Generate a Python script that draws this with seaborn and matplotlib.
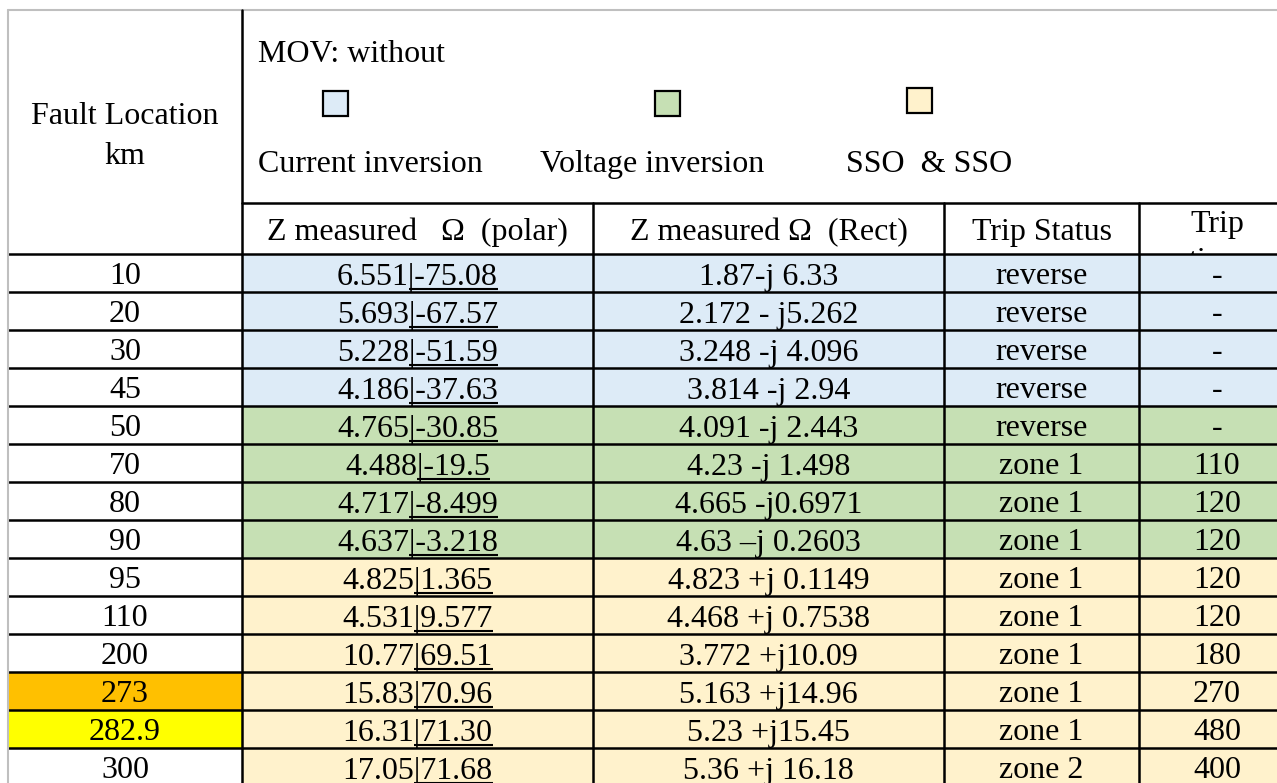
import numpy as np
import pandas as pd
import matplotlib
matplotlib.use("Agg")
import matplotlib.pyplot as plt
from matplotlib.colors import ListedColormap
from matplotlib.patches import Rectangle
import seaborn as sns

# table values
fault_km = ["10", "20", "30", "45", "50", "70", "80", "90", "95", "110", "200", "273", "282.9", "300"]
polar_mag = ["6.551", "5.693", "5.228", "4.186", "4.765", "4.488", "4.717", "4.637",
             "4.825", "4.531", "10.77", "15.83", "16.31", "17.05"]
polar_ang = ["-75.08", "-67.57", "-51.59", "-37.63", "-30.85", "-19.5", "-8.499", "-3.218",
             "1.365", "9.577", "69.51", "70.96", "71.30", "71.68"]
z_rect = ["1.87-j 6.33", "2.172 - j5.262", "3.248 -j 4.096", "3.814 -j 2.94", "4.091 -j 2.443",
          "4.23 -j 1.498", "4.665 -j0.6971", "4.63 \u2013j 0.2603", "4.823 +j 0.1149",
          "4.468 +j 0.7538", "3.772 +j10.09", "5.163 +j14.96", "5.23 +j15.45", "5.36 +j 16.18"]
trip_status = ["reverse", "reverse", "reverse", "reverse", "reverse", "zone 1", "zone 1", "zone 1",
               "zone 1", "zone 1", "zone 1", "zone 1", "zone 1", "zone 2"]
trip_time = ["-", "-", "-", "-", "-", "110", "120", "120", "120", "120", "180", "270", "480", "400"]
region = ["current", "current", "current", "current", "voltage", "voltage", "voltage", "voltage",
          "sso", "sso", "sso", "sso", "sso", "sso"]
loc_mark = ["", "", "", "", "", "", "", "", "", "", "", "orange", "yellow", ""]

legend_keys = ["current", "voltage", "sso"]
legend_labels = ["Current inversion", "Voltage inversion", "SSO  & SSO"]
header_cols = ["Z measured   \u03a9  (polar)", "Z measured \u03a9  (Rect)", "Trip Status"]

colors = {"none": "#FFFFFF", "current": "#DDEBF7", "voltage": "#C6E0B4",
          "sso": "#FFF2CC", "orange": "#FFC000", "yellow": "#FFFF00"}
codes = list(colors)

# layout (pixels)
W, H = 1277, 783
X0 = 8
UNIT = 39
ROW_H = 38
Y_BODY = 254
col_units = [6, 9, 9, 5, 4]
edges = np.concatenate([[0], np.cumsum(col_units)])
centers = (edges[:-1] + edges[1:]) / 2

sns.set_style("white")
plt.rcParams["font.family"] = ["Liberation Serif", "DejaVu Serif"]
plt.rcParams["text.color"] = "black"
FS = 23
LW = 1.8

n = len(fault_km)
grid = np.zeros((n, edges[-1]), dtype=int)
for i in range(n):
    grid[i, :edges[1]] = codes.index(loc_mark[i] or "none")
    grid[i, edges[1]:] = codes.index(region[i])
df = pd.DataFrame(grid, index=fault_km)

fig = plt.figure(figsize=(W / 100, H / 100), dpi=100)
ax = fig.add_axes([X0 / W, 0, (W - X0) / W, (H - Y_BODY) / H])
sns.heatmap(df, ax=ax, cmap=ListedColormap(list(colors.values())), vmin=-0.5,
            vmax=len(codes) - 0.5, cbar=False, xticklabels=False, yticklabels=False,
            linewidths=0)
ax.set_xlim(0, (W - X0) / UNIT)
ax.set_ylim((H - Y_BODY) / ROW_H, 0)

ax.hlines(np.arange(n + 1), 0, edges[-1], color="black", lw=LW, clip_on=False)
ax.vlines(edges[1:-1], 0, n, color="black", lw=LW, clip_on=False)
ax.vlines(0, 0, n, color="#BFBFBF", lw=1.5, clip_on=False)

bl = 11.5 / ROW_H
polar_txt = []
for i in range(n):
    y = i + 0.5 + bl
    kw = dict(ha="center", va="baseline", fontsize=FS)
    ax.text(centers[0], y, fault_km[i], **kw)
    polar_txt.append(ax.text(centers[1], y, polar_mag[i] + "|" + polar_ang[i], **kw))
    ax.text(centers[2], y, z_rect[i], **kw)
    ax.text(centers[3], y, trip_status[i], **kw)
    ax.text(centers[4], y, trip_time[i], **kw)

# underline the angle part of the polar values
fig.canvas.draw()
r = fig.canvas.get_renderer()
inv = ax.transData.inverted()
for i, t in enumerate(polar_txt):
    bb = t.get_window_extent(r)
    probe = ax.text(0, 0, "|" + polar_ang[i], fontsize=FS)
    w = probe.get_window_extent(r).width
    probe.remove()
    (xa, _), (xb, _) = inv.transform([(bb.x1 - w, 0), (bb.x1, 0)])
    yu = i + 0.5 + bl + 4 / ROW_H
    ax.plot([xa, xb], [yu, yu], color="black", lw=1.5, solid_capstyle="butt")

# header drawn on an overlay in pixel coordinates
hx = fig.add_axes([0, 0, 1, 1], zorder=5)
hx.set_xlim(0, W)
hx.set_ylim(H, 0)
hx.axis("off")


def px(u):
    return X0 + u * UNIT


hx.plot([X0, W], [10, 10], color="#BFBFBF", lw=1.5)
hx.plot([X0, X0], [10, Y_BODY], color="#BFBFBF", lw=1.5)
hx.plot([px(edges[1])] * 2, [10, Y_BODY], color="black", lw=LW)
hx.plot([px(edges[1]), W], [203, 203], color="black", lw=LW)
for e in edges[2:-1]:
    hx.plot([px(e)] * 2, [203, Y_BODY], color="black", lw=LW)

hx.text(px(centers[0]), 124, "Fault Location", ha="center", va="baseline", fontsize=FS)
hx.text(px(centers[0]), 164, "km", ha="center", va="baseline", fontsize=FS)
hx.text(258, 62, "MOV: without", ha="left", va="baseline", fontsize=FS)

for key, label, sx, sy, tx in zip(legend_keys, legend_labels, [335, 667, 919], [103, 103, 100],
                                  [258, 540, 846]):
    hx.add_patch(Rectangle((sx - 12.5, sy - 12.5), 25, 25, facecolor=colors[key],
                           edgecolor="black", lw=1.6))
    hx.text(tx, 172, label, ha="left", va="baseline", fontsize=FS)

for c, label in zip(centers[1:4], header_cols):
    hx.text(px(c), 240, label, ha="center", va="baseline", fontsize=FS)
hx.text(px(centers[4]), 232, "Trip", ha="center", va="baseline", fontsize=FS)
t2 = hx.text(px(centers[4]), 269, "time", ha="center", va="baseline", fontsize=FS, clip_on=True)
t2.set_clip_path(Rectangle((px(edges[4]), 203), W - px(edges[4]), Y_BODY - 203,
                           transform=hx.transData))

fig.savefig("out.png", dpi=100)
